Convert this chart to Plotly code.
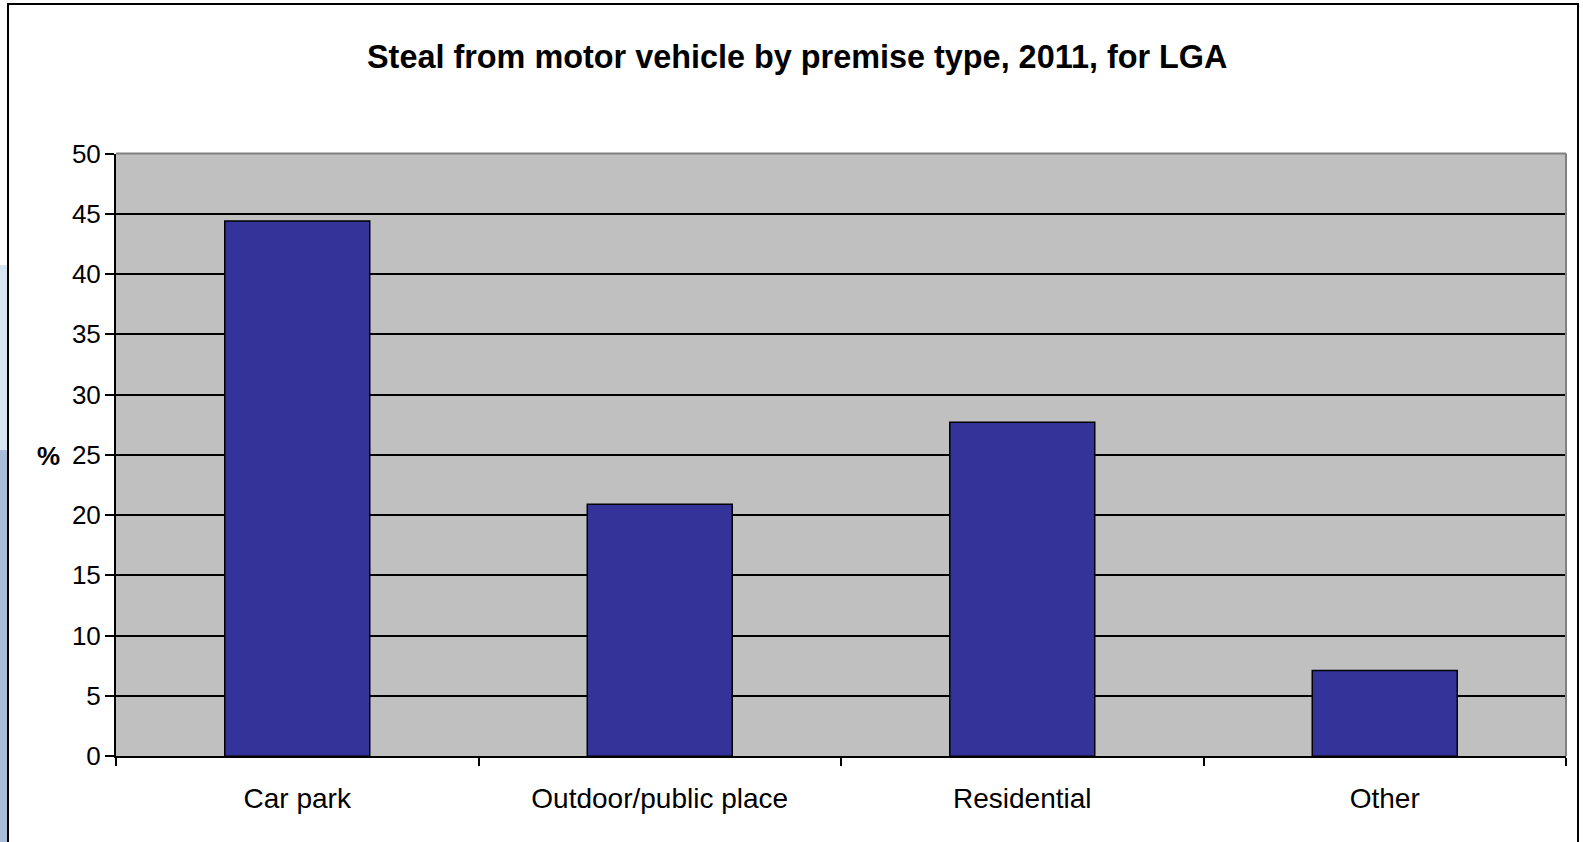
import plotly.graph_objects as go

categories = ["Car park", "Outdoor/public place", "Residential", "Other"]
values = [44.4, 20.9, 27.7, 7.1]
y_ticks = [0, 5, 10, 15, 20, 25, 30, 35, 40, 45, 50]
title_text = "Steal from motor vehicle by premise type, 2011, for LGA"
y_label = "%"

W, H = 1583, 842
# plot area in pixels
PL, PR, PT, PB = 116, 1566, 153.5, 756.2
FONT = "Liberation Sans, Arial, sans-serif"

def px(x):
    return x / W

def py(y):
    return 1 - y / H

fig = go.Figure()
fig.add_trace(go.Bar(
    x=categories, y=values,
    marker=dict(color="#333399", line=dict(color="#000000", width=1.5)),
    width=0.4,
))

shapes = [
    # left slide background strip
    dict(type="rect", xref="paper", yref="paper", x0=0, x1=px(8), y0=py(265), y1=py(450),
         fillcolor="#d7e5f3", line=dict(width=0), layer="below"),
    dict(type="rect", xref="paper", yref="paper", x0=0, x1=px(8), y0=py(842), y1=py(450),
         fillcolor="#a8bcd7", line=dict(width=0), layer="below"),
    # outer frame
    dict(type="rect", xref="paper", yref="paper", x0=px(8), x1=px(1578), y0=py(860), y1=py(4),
         line=dict(color="#000000", width=2), fillcolor="rgba(0,0,0,0)"),
    # gray top and right edges of plot area
    dict(type="line", xref="paper", yref="paper", x0=px(PL), x1=px(PR), y0=py(PT), y1=py(PT),
         line=dict(color="#808080", width=2)),
    dict(type="line", xref="paper", yref="paper", x0=px(PR), x1=px(PR), y0=py(PT), y1=py(PB),
         line=dict(color="#808080", width=2)),
]

fig.update_layout(
    width=W, height=H,
    margin=dict(l=0, r=0, t=0, b=0),
    paper_bgcolor="#ffffff",
    plot_bgcolor="#c0c0c0",
    showlegend=False,
    font=dict(family=FONT, color="#000000", size=26),
    shapes=shapes,
    annotations=[
        dict(text="<b>" + title_text + "</b>", xref="paper", yref="paper",
             x=px(797), y=py(57.5), xanchor="center", yanchor="middle",
             showarrow=False, font=dict(family=FONT, size=32.4, color="#000000")),
        dict(text="<b>" + y_label + "</b>", xref="paper", yref="paper",
             x=px(62), y=py(456), xanchor="right", yanchor="middle",
             showarrow=False, font=dict(family=FONT, size=26, color="#000000")),
    ],
    bargap=0.6,
    xaxis=dict(
        domain=[px(PL), px(PR)],
        type="category",
        tickson="boundaries",
        ticks="outside", ticklen=8, tickwidth=1.5, tickcolor="#000000",
        showline=True, linecolor="#000000", linewidth=2,
        showgrid=False, zeroline=False,
        tickfont=dict(family=FONT, size=28),
        ticklabelstandoff=16,
        automargin=False,
    ),
    yaxis=dict(
        domain=[py(PB), py(PT)],
        range=[0, 50],
        tickvals=y_ticks,
        ticks="outside", ticklen=9, tickwidth=1.5, tickcolor="#000000",
        showline=True, linecolor="#000000", linewidth=2,
        showgrid=True, gridcolor="#000000", gridwidth=1.5,
        zeroline=False,
        tickfont=dict(family=FONT, size=26),
        ticklabelstandoff=-1,
        automargin=False,
    ),
)

fig.write_html("out.html")
